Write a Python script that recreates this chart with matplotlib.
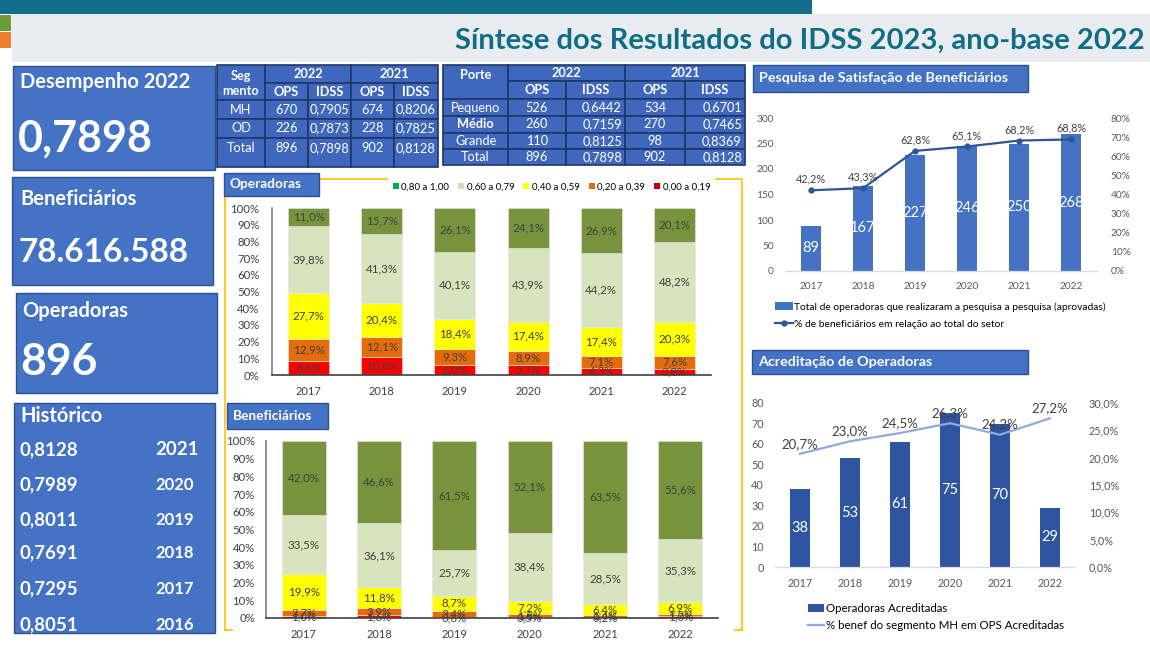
import matplotlib
matplotlib.use('Agg')
import matplotlib.pyplot as plt
from matplotlib.patches import Rectangle
import numpy as np

W, H = 1150, 647
plt.rcParams['font.family'] = ['Lato', 'DejaVu Sans']

# ---- dados ----
anos = ['2017', '2018', '2019', '2020', '2021', '2022']
faixas = ['0,00 a 0,19', '0,20 a 0,39', '0,40 a 0,59', '0,60 a 0,79', '0,80 a 1,00']
cores_faixa = ['#FF0000', '#E46C0A', '#FFFF00', '#D7E4BD', '#77933C']
cores_legenda = ['#C00000', '#E46C0A', '#FFFF00', '#C5E0B4', '#00B050']

ops_00 = [8.6, 10.6, 6.0, 5.7, 4.3, 3.8]
ops_20 = [12.9, 12.1, 9.3, 8.9, 7.1, 7.6]
ops_40 = [27.7, 20.4, 18.4, 17.4, 17.4, 20.3]
ops_60 = [39.8, 41.3, 40.1, 43.9, 44.2, 48.2]
ops_80 = [11.0, 15.7, 26.1, 24.1, 26.9, 20.1]

ben_00 = [1.0, 1.6, 0.6, 0.5, 0.2, 1.0]
ben_20 = [3.7, 3.9, 3.4, 1.8, 1.4, 1.2]
ben_40 = [19.9, 11.8, 8.7, 7.2, 6.4, 6.9]
ben_60 = [33.5, 36.1, 25.7, 38.4, 28.5, 35.3]
ben_80 = [42.0, 46.6, 61.5, 52.1, 63.5, 55.6]

pesq_ops = [89, 167, 227, 246, 250, 268]
pesq_pct = [42.2, 43.3, 62.8, 65.1, 68.2, 68.8]

acred_ops = [38, 53, 61, 75, 70, 29]
acred_pct = [20.7, 23.0, 24.5, 26.3, 24.2, 27.2]

hist_idss = [0.8128, 0.7989, 0.8011, 0.7691, 0.7295, 0.8051]
hist_anos = ['2021', '2020', '2019', '2018', '2017', '2016']

seg_nomes = ['MH', 'OD', 'Total']
seg_ops22 = [670, 226, 896]
seg_idss22 = [0.7905, 0.7873, 0.7898]
seg_ops21 = [674, 228, 902]
seg_idss21 = [0.8206, 0.7825, 0.8128]

porte_nomes = ['Pequeno', 'Médio', 'Grande', 'Total']
porte_ops22 = [526, 260, 110, 896]
porte_idss22 = [0.6442, 0.7159, 0.8125, 0.7898]
porte_ops21 = [534, 270, 98, 902]
porte_idss21 = [0.6701, 0.7465, 0.8369, 0.8128]

AZUL = '#4472C4'
AZUL_ESC = '#2F528F'
CINZA_TXT = '#404040'


def virg(v, casas=4):
    return f'{v:.{casas}f}'.replace('.', ',')


def box(x0, y0, x1, y1):
    return [x0 / W, 1 - y1 / H, (x1 - x0) / W, (y1 - y0) / H]


fig = plt.figure(figsize=(11.5, 6.47), dpi=100)
bg = fig.add_axes([0, 0, 1, 1])
bg.set_xlim(0, W)
bg.set_ylim(H, 0)
bg.axis('off')


def rect(x0, y0, x1, y1, fc, ec='none', lw=0, z=1):
    bg.add_patch(Rectangle((x0, y0), x1 - x0, y1 - y0, fc=fc, ec=ec, lw=lw, zorder=z))


# ---- cabecalho ----
rect(0, 0, 812, 14, '#126E8A')
rect(12, 14, W, 62, '#E8ECF0')
rect(0, 15, 11, 31, '#6A9C3A')
rect(0, 32, 11, 48, '#ED7D31')
bg.text(1145, 41, 'Síntese dos Resultados do IDSS 2023, ano-base 2022', ha='right', va='center',
        fontsize=21, fontweight='bold', color='#0F6E85')

# ---- caixas da esquerda ----
rect(13, 66, 215, 170, AZUL, AZUL_ESC, 1)
bg.text(20, 88, 'Desempenho 2022', color='white', fontsize=14.5, fontweight='bold', va='baseline')
bg.text(18, 152, virg(0.7898), color='white', fontsize=31, fontweight='bold', va='baseline')

rect(12, 177, 213, 285, AZUL, AZUL_ESC, 1)
bg.text(20, 205, 'Beneficiários', color='white', fontsize=14.5, fontweight='bold', va='baseline')
bg.text(18, 262, '78.616.588', color='white', fontsize=24, fontweight='bold', va='baseline')

rect(16, 293, 217, 393, AZUL, AZUL_ESC, 1)
bg.text(22, 317, 'Operadoras', color='white', fontsize=14.5, fontweight='bold', va='baseline')
bg.text(20, 375, '896', color='white', fontsize=32, fontweight='bold', va='baseline')

rect(14, 403, 215, 633, AZUL, AZUL_ESC, 1)
bg.text(20, 422, 'Histórico', color='white', fontsize=14.5, fontweight='bold', va='baseline')
hist_y = [455, 490, 525, 558, 594, 630]
for i, (v, a, yy) in enumerate(zip(hist_idss, hist_anos, hist_y)):
    bg.text(20, yy, virg(v), color='white', fontsize=13.5, fontweight='bold', va='baseline')
    bg.text(155, yy, a, color='white', fontsize=13.5 if i == 0 else 12, fontweight='bold', va='baseline')

# ---- tabelas ----
TAB_FC = '#3F67BE'
TAB_EC = '#1F3864'
FS_TAB = 9.2


def cell(x0, y0, x1, y1, txt, bold=False, ha='center', ty=None):
    rect(x0, y0, x1, y1, TAB_FC, TAB_EC, 1.2, z=2)
    if ty is None:
        ty = (y0 + y1) / 2
    tx = {'center': (x0 + x1) / 2, 'right': x1 - 3, 'left': x0 + 3}[ha]
    bg.text(tx, ty, txt, ha=ha, va='center', color='white', fontsize=FS_TAB,
            fontweight='bold' if bold else 'normal', zorder=3)


cx = [217, 265, 308, 351, 394, 438]
ry = [65, 83, 100, 119, 138, 167]
rect(cx[0], ry[0], cx[1], ry[2], TAB_FC, TAB_EC, 1.2, z=2)
bg.text((cx[0] + cx[1]) / 2, 76, 'Seg', ha='center', va='center', color='white', fontsize=FS_TAB,
        fontweight='bold', zorder=3)
bg.text((cx[0] + cx[1]) / 2, 91, 'mento', ha='center', va='center', color='white', fontsize=FS_TAB,
        fontweight='bold', zorder=3)
cell(cx[1], ry[0], cx[3], ry[1], '2022', True)
cell(cx[3], ry[0], cx[5], ry[1], '2021', True)
for j, t in enumerate(['OPS', 'IDSS', 'OPS', 'IDSS']):
    cell(cx[j + 1], ry[1], cx[j + 2], ry[2], t, True)
for i, nome in enumerate(seg_nomes):
    y0, y1 = ry[i + 2], ry[i + 3]
    ty = 148 if nome == 'Total' else None
    vals = [str(seg_ops22[i]), virg(seg_idss22[i]), str(seg_ops21[i]), virg(seg_idss21[i])]
    cell(cx[0], y0, cx[1], y1, nome, ty=ty)
    for j, t in enumerate(vals):
        cell(cx[j + 1], y0, cx[j + 2], y1, t, ty=ty)

px_ = [443, 508, 566, 625, 685, 745]
py_ = [65, 81, 99, 116, 133, 149, 165]
rect(px_[0], py_[0], px_[1], py_[2], TAB_FC, TAB_EC, 1.2, z=2)
bg.text((px_[0] + px_[1]) / 2, 75, 'Porte', ha='center', va='center', color='white', fontsize=FS_TAB,
        fontweight='bold', zorder=3)
cell(px_[1], py_[0], px_[3], py_[1], '2022', True)
cell(px_[3], py_[0], px_[5], py_[1], '2021', True)
for j, t in enumerate(['OPS', 'IDSS', 'OPS', 'IDSS']):
    cell(px_[j + 1], py_[1], px_[j + 2], py_[2], t, True)
for i, nome in enumerate(porte_nomes):
    y0, y1 = py_[i + 2], py_[i + 3]
    cell(px_[0], y0, px_[1], y1, nome, bold=(nome == 'Médio'))
    cell(px_[1], y0, px_[2], y1, str(porte_ops22[i]))
    cell(px_[2], y0, px_[3], y1, virg(porte_idss22[i]), ha='right')
    cell(px_[3], y0, px_[4], y1, str(porte_ops21[i]))
    cell(px_[4], y0, px_[5], y1, virg(porte_idss21[i]), ha='right')

# ---- moldura amarela do meio ----
bg.plot([225, 225, 742, 742], [630, 179, 179, 630], color='#FFC000', lw=1.2)
bg.plot([225, 232], [630, 630], color='#FFC000', lw=1.2)
bg.plot([735, 742], [630, 630], color='#FFC000', lw=1.2)


def titulo(x0, y0, x1, y1, txt, fs):
    rect(x0, y0, x1, y1, AZUL, AZUL_ESC, 1, z=4)
    bg.text(x0 + 6, (y0 + y1) / 2, txt, ha='left', va='center', color='white', fontsize=fs,
            fontweight='bold', zorder=5)


# ---- graficos empilhados ----
def empilhado(area, series, largura, pad_y):
    ax = fig.add_axes(box(*area))
    ax.set_facecolor('none')
    x = np.arange(len(anos))
    base = np.zeros(len(anos))
    for vals, cor in zip(series, cores_faixa):
        vals = np.array(vals)
        ax.bar(x, vals, largura, bottom=base, color=cor, edgecolor='#E8E8E8', lw=0.4)
        for xi, b, v in zip(x, base, vals):
            ax.text(xi, b + v / 2, virg(v, 1) + '%', ha='center', va='center', fontsize=8.3,
                    color=CINZA_TXT)
        base += vals
    ax.set_xlim(-0.5, len(anos) - 0.5)
    ax.set_ylim(0, 100)
    ax.set_yticks(range(0, 101, 10))
    ax.set_yticklabels([f'{v}%' for v in range(0, 101, 10)])
    ax.set_xticks(x)
    ax.set_xticklabels(anos)
    ax.tick_params(axis='y', length=0, pad=pad_y, labelsize=8.2, labelcolor=CINZA_TXT)
    ax.tick_params(axis='x', length=0, pad=8, labelsize=8, labelcolor=CINZA_TXT)
    for s in ['top', 'right']:
        ax.spines[s].set_visible(False)
    ax.spines['left'].set_color('#7F7F7F')
    ax.spines['bottom'].set_color('#404040')
    ax.spines['left'].set_linewidth(1.2)
    ax.spines['bottom'].set_linewidth(1.2)
    return ax


empilhado((272, 208, 711, 375), [ops_00, ops_20, ops_40, ops_60, ops_80], 0.56, 9)
empilhado((266, 441, 718, 618), [ben_00, ben_20, ben_40, ben_60, ben_80], 0.58, 8)
titulo(224, 173, 319, 196, 'Operadoras', 9.8)
titulo(227, 403, 328, 429, 'Beneficiários', 9.8)

leg_handles = [Rectangle((0, 0), 1, 1, fc=c, ec='none') for c in cores_legenda[::-1]]
fig.legend(leg_handles, faixas[::-1], loc='center left', bbox_to_anchor=(383 / W, 1 - 187 / H),
           ncol=5, fontsize=7, frameon=True, facecolor='white', edgecolor='none', fancybox=False,
           handlelength=0.6, handleheight=0.6, handletextpad=0.3, columnspacing=0.9,
           borderpad=0.5, framealpha=1)


# ---- graficos combinados ----
def combinado(area, barras, pct, cor_barra, cor_linha, ymax, ystep, pmax, pstep, pfmt,
              fs_tick, fs_bar, fs_pct, marcador, off):
    ax = fig.add_axes(box(*area))
    ax.set_facecolor('none')
    x = np.arange(len(anos))
    b = ax.bar(x, barras, 0.39, color=cor_barra, zorder=2)
    for xi, v in zip(x, barras):
        ax.text(xi, v / 2, str(v), ha='center', va='center', color='white', fontsize=fs_bar, zorder=5)
    ax.set_ylim(0, ymax)
    ax.set_yticks(np.arange(0, ymax + 1, ystep))
    ax.set_xlim(-0.5, len(anos) - 0.5)
    ax.set_xticks(x)
    ax.set_xticklabels(anos)
    ax2 = ax.twinx()
    l, = ax2.plot(x, pct, color=cor_linha, lw=1.6, marker='o' if marcador else None, ms=3.5, zorder=3)
    for xi, v in zip(x, pct):
        ax2.annotate(virg(v, 1) + '%', (xi, v), xytext=(0, off), textcoords='offset points',
                     ha='center', va='bottom', fontsize=fs_pct, color=CINZA_TXT)
    ax2.set_ylim(0, pmax)
    ticks = np.arange(0, pmax + 0.001, pstep)
    ax2.set_yticks(ticks)
    ax2.set_yticklabels([pfmt(t) for t in ticks])
    for a in (ax, ax2):
        for s in ['top', 'right', 'left']:
            a.spines[s].set_visible(False)
        a.spines['bottom'].set_color('#D9D9D9')
        a.tick_params(length=0, labelsize=fs_tick, labelcolor='#595959')
    ax.tick_params(axis='y', pad=8)
    ax2.tick_params(axis='y', pad=10)
    ax.tick_params(axis='x', pad=8)
    return ax, b, l


titulo(753, 65, 1028, 92, 'Pesquisa de Satisfação de Beneficiários', 10.3)
ax_p, b_p, l_p = combinado((785, 118, 1097, 271), pesq_ops, pesq_pct, '#4472C4', '#2F5597',
                           300, 50, 80, 10, lambda t: f'{t:.0f}%', 7.3, 10.5, 7.8, True, 4)
fig.legend([b_p, l_p], ['Total de operadoras que realizaram a pesquisa a pesquisa (aprovadas)',
                        '% de beneficiários em relação ao total do setor'],
           loc='upper left', bbox_to_anchor=(770 / W, 1 - 297 / H), frameon=False, fontsize=7.4,
           handlelength=1.7, handletextpad=0.1, labelspacing=0.75, borderpad=0)

titulo(752, 350, 1028, 374, 'Acreditação de Operadoras', 10.3)
ax_a, b_a, l_a = combinado((775, 403, 1075, 567), acred_ops, acred_pct, '#2F55A0', '#8FAADC',
                           80, 10, 30, 5, lambda t: virg(t, 1) + '%', 7.8, 10.5, 9.5, False, 3)
fig.legend([b_a, l_a], ['Operadoras Acreditadas', '% benef do segmento MH em OPS Acreditadas'],
           loc='upper left', bbox_to_anchor=(802 / W, 1 - 597 / H), frameon=False, fontsize=8.3,
           handlelength=1.45, handletextpad=0.1, labelspacing=0.55, borderpad=0)

fig.savefig('out.png', dpi=100)
